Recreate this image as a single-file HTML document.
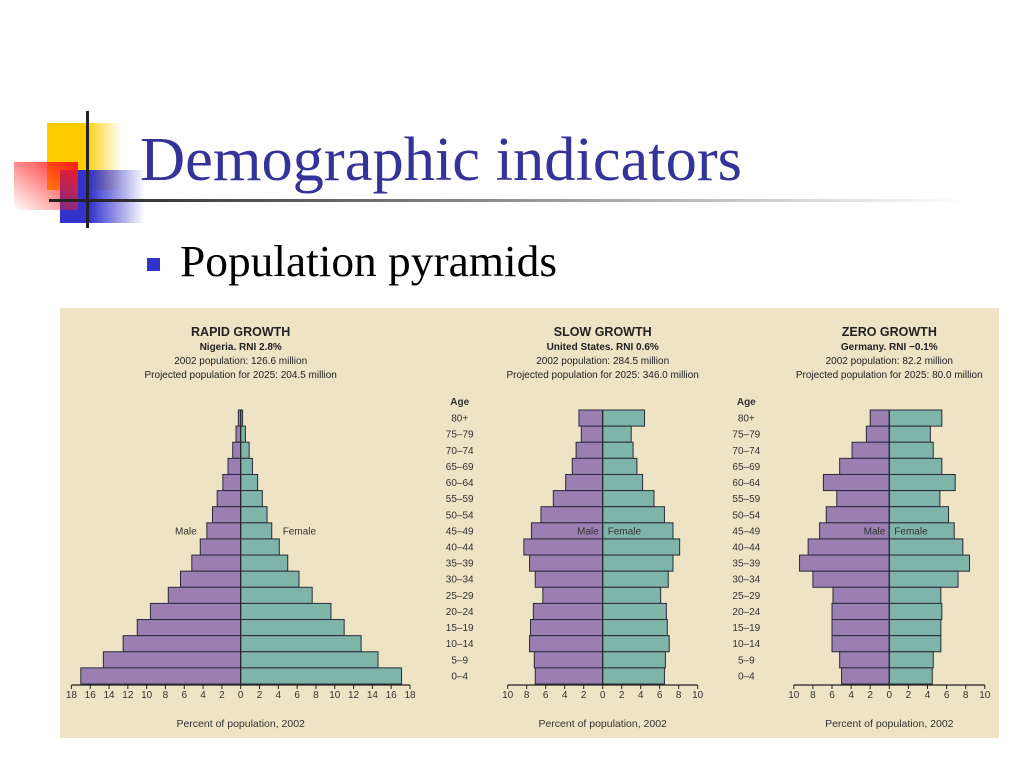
<!DOCTYPE html>
<html><head><meta charset="utf-8"><style>
body{margin:0;width:1024px;height:768px;background:#fff;overflow:hidden;font-family:"Liberation Sans",sans-serif}
</style></head><body>
<svg width="1024" height="768" viewBox="0 0 1024 768">
<defs>
<linearGradient id="gy" x1="0" x2="1"><stop offset="0.5" stop-color="#ffcc00"/><stop offset="1" stop-color="#ffcc00" stop-opacity="0"/></linearGradient>
<linearGradient id="gb" x1="0" x2="1"><stop offset="0.35" stop-color="#3333cc"/><stop offset="1" stop-color="#3333cc" stop-opacity="0"/></linearGradient>
<linearGradient id="gr" x1="1" y1="0" x2="0" y2="1"><stop offset="0" stop-color="#ff1a1a"/><stop offset="1" stop-color="#ff1a1a" stop-opacity="0"/></linearGradient>
<linearGradient id="gl" x1="0" x2="1"><stop offset="0" stop-color="#222"/><stop offset="1" stop-color="#222" stop-opacity="0"/></linearGradient>
</defs>
<g>
<rect x="47" y="123" width="75" height="67" fill="url(#gy)"/>
<rect x="60" y="170" width="85" height="53" fill="url(#gb)"/>
<rect x="14" y="162" width="64" height="48" fill="url(#gr)"/>
<rect x="86" y="111" width="3" height="117" fill="#222"/>
</g>
<rect x="49" y="199" width="920" height="3" fill="url(#gl)"/>
<text x="140" y="180" font-family="Liberation Serif,serif" font-size="62" fill="#333399" textLength="602" lengthAdjust="spacingAndGlyphs">Demographic indicators</text>
<rect x="147" y="258" width="13" height="13" fill="#3333cc"/>
<text x="180" y="276" font-family="Liberation Serif,serif" font-size="44" fill="#000" textLength="377" lengthAdjust="spacingAndGlyphs">Population pyramids</text>
<rect x="60" y="308" width="939" height="430" fill="#efe3c5"/>
<g id="charts"></g>
</svg>
<script>
const ages=["80+","75–79","70–74","65–69","60–64","55–59","50–54","45–49","40–44","35–39","30–34","25–29","20–24","15–19","10–14","5–9","0–4"];
const ngMale=[0.25,0.5,0.85,1.35,1.9,2.5,3.0,3.6,4.3,5.2,6.4,7.7,9.6,11.0,12.5,14.6,17.0];
const ngFemale=[0.2,0.5,0.9,1.25,1.8,2.3,2.8,3.3,4.1,5.0,6.2,7.6,9.6,11.0,12.8,14.6,17.1];
const usMale=[2.5,2.25,2.8,3.2,3.9,5.2,6.5,7.5,8.3,7.7,7.1,6.3,7.3,7.6,7.7,7.2,7.1];
const usFemale=[4.4,3.0,3.2,3.6,4.2,5.4,6.5,7.4,8.1,7.4,6.9,6.1,6.7,6.8,7.0,6.6,6.5];
const deMale=[2.0,2.4,3.9,5.2,6.9,5.5,6.6,7.3,8.5,9.4,8.0,5.9,6.0,6.0,6.0,5.2,5.0];
const deFemale=[5.5,4.3,4.6,5.5,6.9,5.3,6.2,6.8,7.7,8.4,7.2,5.4,5.5,5.4,5.4,4.6,4.5];
const ngTicks=[18,16,14,12,10,8,6,4,2,0,2,4,6,8,10,12,14,16,18];
const smTicks=[10,8,6,4,2,0,2,4,6,8,10];
const NS="http://www.w3.org/2000/svg";
const root=document.getElementById('charts');
function mk(t,a,p){const e=document.createElementNS(NS,t);for(const k in a)e.setAttribute(k,a[k]);(p||root).appendChild(e);return e;}
const top0=410,bot0=684,rh=(bot0-top0)/ages.length;
function yOf(i){return top0+i*rh;}
function pyramid(key,cx,maxV,halfW,male,female,ticks,head,showAges){
  const g=mk('g',{});
  
  
  const s=v=>v*halfW/maxV;
  head.forEach((t,i)=>{const e=mk('text',{x:cx,y:336+i*14,'text-anchor':'middle','font-size':i==0?12.5:10,'font-weight':i<2?'bold':'normal',fill:'#222'},g);e.textContent=t;
    
    });
  ages.forEach((a,i)=>{
    const r1=mk('rect',{x:cx-s(male[i]),y:yOf(i),width:s(male[i]),height:rh,fill:'#9b7eb2',stroke:'#2a2a3a','stroke-width':1},g);
    
    
    const r2=mk('rect',{x:cx,y:yOf(i),width:s(female[i]),height:rh,fill:'#7fb4a8',stroke:'#2a2a3a','stroke-width':1},g);
    
    
    if(showAges){const t=mk('text',{x:cx-143,y:yOf(i)+rh/2+3.5,'text-anchor':'middle','font-size':10,fill:'#333'},g);t.textContent=a;
      
      }
  });
  if(showAges){const t=mk('text',{x:cx-143,y:405,'text-anchor':'middle','font-size':10,'font-weight':'bold',fill:'#333'},g);t.textContent='Age';
    
    }
  mk('line',{x1:cx,y1:top0,x2:cx,y2:bot0,stroke:'#222','stroke-width':1},g);
  const ax=mk('line',{x1:cx-halfW,y1:bot0+1,x2:cx+halfW,y2:bot0+1,stroke:'#222','stroke-width':1.2},g);
  
  
  ticks.forEach((v,i)=>{const x=cx+(i<ticks.length/2-0.5?-s(v):s(v));
    mk('line',{x1:x,y1:bot0+1,x2:x,y2:bot0+5,stroke:'#222'},g);
    const t=mk('text',{x:x,y:bot0+14,'text-anchor':'middle','font-size':10,fill:'#333'},g);t.textContent=v;
    
    });
  const at=mk('text',{x:cx,y:727,'text-anchor':'middle','font-size':10.5,fill:'#333'},g);at.textContent='Percent of population, 2002';
  
  
  const mi=7,my=yOf(mi)+rh/2+3.5;
  const m=mk('text',{x:cx-(key=='nigeria'?44:4),y:my,'text-anchor':'end','font-size':10,fill:'#333'},g);m.textContent='Male';
  
  
  const f=mk('text',{x:cx+(key=='nigeria'?42:5),y:my,'font-size':10,fill:'#333'},g);f.textContent='Female';
  
  
}
pyramid('nigeria',240.7,18,169.3,ngMale,ngFemale,ngTicks,["RAPID GROWTH","Nigeria. RNI 2.8%","2002 population: 126.6 million","Projected population for 2025: 204.5 million"],false);
pyramid('us',602.7,10,95,usMale,usFemale,smTicks,["SLOW GROWTH","United States. RNI 0.6%","2002 population: 284.5 million","Projected population for 2025: 346.0 million"],true);
pyramid('germany',889.3,10,95.5,deMale,deFemale,smTicks,["ZERO GROWTH","Germany. RNI −0.1%","2002 population: 82.2 million","Projected population for 2025: 80.0 million"],true);
</script>
</body></html>
